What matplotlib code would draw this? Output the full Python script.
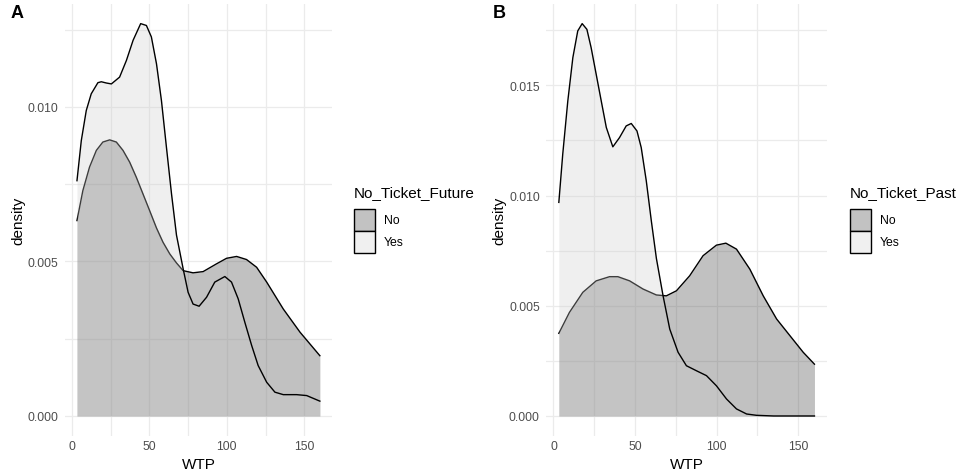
import numpy as np
import matplotlib.pyplot as plt
from matplotlib.colors import to_rgb
from matplotlib.patches import Patch
from matplotlib.ticker import MultipleLocator

plt.rcParams['font.family'] = ['Liberation Sans', 'DejaVu Sans']

# Panel A : WTP density by No_Ticket_Future
a_no_x = [3.3, 7.1, 11.4, 15.8, 20.0, 24.4, 28.7, 33.0, 37.3, 41.6, 45.9, 50.2, 54.6, 58.8,
          63.2, 67.5, 71.8, 78.2, 84.7, 93.3, 99.8, 106.3, 112.7, 119.2, 125.7, 136.4, 147.2, 160]
a_no_y = [0.00632, 0.00729, 0.00805, 0.00859, 0.00886, 0.00893, 0.00886, 0.00859, 0.00821,
          0.00772, 0.00718, 0.00664, 0.00608, 0.00562, 0.00524, 0.00495, 0.0047, 0.00463,
          0.00467, 0.00492, 0.0051, 0.00516, 0.00506, 0.00481, 0.00433, 0.00346, 0.00271,
          0.00195]
a_yes_x = [3.3, 6.1, 9.3, 12.5, 16.8, 19.0, 22.2, 25.5, 30.8, 35.2, 39.5, 44.4, 48.1, 51.3,
           54.6, 57.8, 61.0, 64.3, 67.5, 71.8, 75.0, 78.2, 82.1, 86.9, 92.2, 98.7, 103.0,
           107.3, 111.6, 116.0, 120.2, 125.7, 131.0, 136.4, 145.0, 151.5, 160]
a_yes_y = [0.00761, 0.00891, 0.00988, 0.01042, 0.01078, 0.01081, 0.01077, 0.01074, 0.01096,
           0.0115, 0.01215, 0.01269, 0.01263, 0.01226, 0.01139, 0.0102, 0.0087, 0.00718,
           0.00585, 0.00476, 0.0040, 0.00362, 0.00355, 0.00384, 0.00433, 0.00451, 0.00433,
           0.00379, 0.00303, 0.00228, 0.00163, 0.00109, 0.00077, 0.00069, 0.00069, 0.00066,
           0.00048]

# Panel B : WTP density by No_Ticket_Past
b_no_x = [3.3, 9.8, 18.0, 26.2, 34.4, 39.5, 46.7, 54.9, 63.1, 69.2, 75.4, 83.5, 91.7, 99.9,
          105.7, 112.2, 120.4, 128.6, 136.8, 145.0, 153.1, 160]
b_no_y = [0.00375, 0.0047, 0.00561, 0.00613, 0.00632, 0.00632, 0.00613, 0.00576, 0.00549,
          0.00545, 0.00568, 0.00636, 0.00727, 0.00775, 0.00784, 0.00757, 0.00666, 0.00545,
          0.0044, 0.00364, 0.00289, 0.00235]
b_yes_x = [3.3, 5.7, 8.8, 11.9, 14.9, 17.6, 20.5, 23.1, 26.2, 29.3, 32.4, 36.4, 40.5, 44.6,
           47.7, 51.2, 53.8, 56.9, 60.0, 63.1, 67.2, 71.3, 76.4, 81.5, 87.7, 93.8, 99.9,
           106.1, 112.2, 118.4, 124.5, 135, 147, 160]
b_yes_y = [0.00969, 0.01188, 0.01429, 0.01626, 0.01747, 0.0178, 0.01754, 0.01671, 0.0155,
           0.01429, 0.01309, 0.01221, 0.01263, 0.01316, 0.01327, 0.01293, 0.01218, 0.01067,
           0.00885, 0.00715, 0.00545, 0.00394, 0.00289, 0.00228, 0.00205, 0.00183, 0.00137,
           0.00077, 0.00032, 0.00009, 0.00003, 0.0, 0.0, 0.0]

groups = ["No", "Yes"]
fill_cols = ["#333333", "#CCCCCC"]
alpha = 0.3

fig = plt.figure(figsize=(9.59, 4.77), dpi=100)
axA = fig.add_axes([0.0676, 0.0847, 0.2786, 0.9048])
axB = fig.add_axes([0.5694, 0.0847, 0.2932, 0.9048])


def density_panel(ax, curves, yticks, letter, lx, ly):
    ymax = max(max(c[1]) for c in curves)
    for (xs, ys), col in zip(curves, fill_cols):
        ax.fill_between(xs, 0, ys, color=col, alpha=alpha, linewidth=0, zorder=2)
        ax.plot(xs, ys, color="black", lw=1.0, zorder=2, solid_joinstyle="round")
    xmin = min(min(c[0]) for c in curves)
    xmax = max(max(c[0]) for c in curves)
    span = xmax - xmin
    ax.set_xlim(xmin - 0.05 * span, xmax + 0.05 * span)
    ax.set_ylim(-0.05 * ymax, ymax * 1.05)
    ax.set_xticks([0, 50, 100, 150])
    ax.xaxis.set_minor_locator(MultipleLocator(25))
    ax.set_yticks(yticks)
    ax.yaxis.set_minor_locator(MultipleLocator(0.0025))
    ax.set_yticklabels([f"{t:.3f}" for t in yticks])
    ax.grid(which="major", color="#EBEBEB", lw=0.9, zorder=0)
    ax.grid(which="minor", color="#EBEBEB", lw=0.9, zorder=0)
    ax.set_axisbelow(True)
    for s in ax.spines.values():
        s.set_visible(False)
    ax.tick_params(which="both", length=0, labelsize=8.8, labelcolor="#4D4D4D")
    ax.tick_params(axis="x", pad=3)
    ax.tick_params(axis="y", pad=4.5)
    ax.set_xlabel("WTP", fontsize=11, labelpad=4)
    ax.set_ylabel("density", fontsize=11, labelpad=1.5)
    fig.text(lx, ly, letter, fontsize=13, fontweight="bold", ha="left", va="center")
    # legend keys show the fill as it looks over white, with a black outline
    return [Patch(facecolor=(1 - alpha) + alpha * np.array(to_rgb(c)),
                  edgecolor="black", linewidth=1.0) for c in fill_cols]


hA = density_panel(axA, [(a_no_x, a_no_y), (a_yes_x, a_yes_y)], [0, 0.005, 0.010],
                   "A", 11 / 959, 1 - 13 / 477)
hB = density_panel(axB, [(b_no_x, b_no_y), (b_yes_x, b_yes_y)], [0, 0.005, 0.010, 0.015],
                   "B", 493 / 959, 1 - 13 / 477)

for h, title, lx in [(hA, "No_Ticket_Future", 354), (hB, "No_Ticket_Past", 850)]:
    leg = fig.legend(h, groups, title=title, loc="upper left",
                     bbox_to_anchor=(lx / 959, 1 - 186 / 477), frameon=False,
                     fontsize=8.8, title_fontsize=11, borderpad=0, borderaxespad=0,
                     handlelength=1.72, handleheight=2.39, labelspacing=0.0,
                     handletextpad=0.7, alignment="left")
    leg._legend_box.sep = 7

fig.savefig("out.png", dpi=100)
